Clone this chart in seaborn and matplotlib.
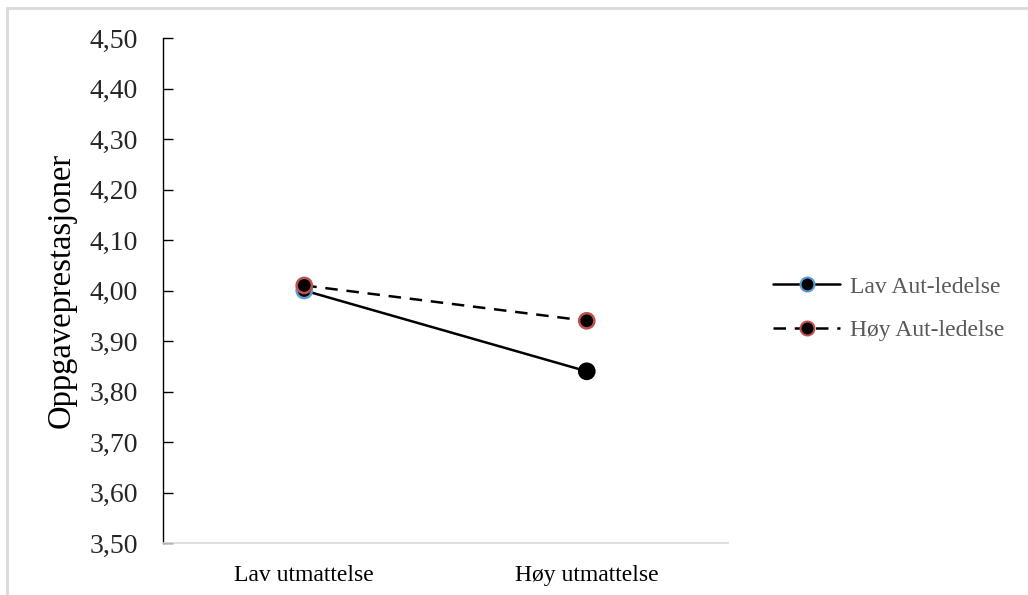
import matplotlib
matplotlib.use("Agg")
import matplotlib.pyplot as plt
import matplotlib.patches as mpatches
from matplotlib.lines import Line2D
import seaborn as sns
import pandas as pd

categories = ["Lav utmattelse", "Høy utmattelse"]
series_names = ["Lav Aut-ledelse", "Høy Aut-ledelse"]
lav_aut = [4.00, 3.84]
hoy_aut = [4.01, 3.94]
y_ticks = [3.50, 3.60, 3.70, 3.80, 3.90, 4.00, 4.10, 4.20, 4.30, 4.40, 4.50]
y_label = "Oppgaveprestasjoner"

df = pd.DataFrame({
    "utmattelse": categories * 2,
    "verdi": lav_aut + hoy_aut,
    "ledelse": [series_names[0]] * 2 + [series_names[1]] * 2,
})

sns.set_style("white")
plt.rcParams["font.family"] = ["Liberation Serif", "DejaVu Serif"]

fig = plt.figure(figsize=(10.28, 5.95), dpi=100)
ax = fig.add_axes([163 / 1028, 1 - 543 / 595, (728 - 163) / 1028, (543 - 38) / 595])

sns.lineplot(data=df, x="utmattelse", y="verdi", hue="ledelse", style="ledelse",
             hue_order=series_names, style_order=series_names,
             palette=["black", "black"], markers=False,
             dashes=[(1, 0), (5, 3.5)], linewidth=1.8,
             legend=False, ax=ax, sort=False)

sns.scatterplot(data=df, x="utmattelse", y="verdi", color="black", s=120,
                linewidth=1.8, legend=False, ax=ax, zorder=3)
point_edges = ["#5B9BD5", "black", "#C0504D", "#C0504D"]
ax.collections[-1].set_edgecolors(point_edges)

ax.set_xlim(-0.5, 1.5)
ax.set_ylim(3.5, 4.5)
ax.set_yticks(y_ticks)
ax.set_yticklabels([f"{v:.2f}".replace(".", ",") for v in y_ticks])
ax.set_xlabel("")
ax.set_ylabel(y_label, fontsize=23.5, color="black", labelpad=9)

for s in ["top", "right"]:
    ax.spines[s].set_visible(False)
ax.spines["left"].set_color("black")
ax.spines["left"].set_linewidth(1.0)
ax.spines["bottom"].set_color("#D9D9D9")
ax.spines["bottom"].set_linewidth(1.2)

ax.tick_params(axis="y", direction="in", length=7, width=1, color="black",
               labelsize=20, labelcolor="#262626", pad=18, left=True)
ax.tick_params(axis="x", length=0, labelsize=17, labelcolor="black", pad=16)

handles = [
    Line2D([], [], color="black", lw=1.8, ls="-", marker="o", markersize=10,
           markerfacecolor="black", markeredgecolor="#5B9BD5", markeredgewidth=1.5),
    Line2D([], [], color="black", lw=1.8, ls=(0, (5, 3.5)), marker="o", markersize=10,
           markerfacecolor="black", markeredgecolor="#C0504D", markeredgewidth=1.5),
]
leg = ax.legend(handles=handles, labels=series_names, loc="upper left",
                bbox_to_anchor=(773 / 1028, 1 - 276 / 595), bbox_transform=fig.transFigure,
                frameon=False, fontsize=17, borderpad=0, borderaxespad=0,
                handlelength=2.85, handletextpad=0.4, labelspacing=0.95)
for t in leg.get_texts():
    t.set_color("#595959")

border = mpatches.Rectangle((7 / 1028, -0.1), 1.2, 1.1 - 8 / 595,
                            transform=fig.transFigure, fill=False,
                            edgecolor="#D9D9D9", linewidth=2)
fig.patches.append(border)

fig.savefig("out.png", dpi=100)
